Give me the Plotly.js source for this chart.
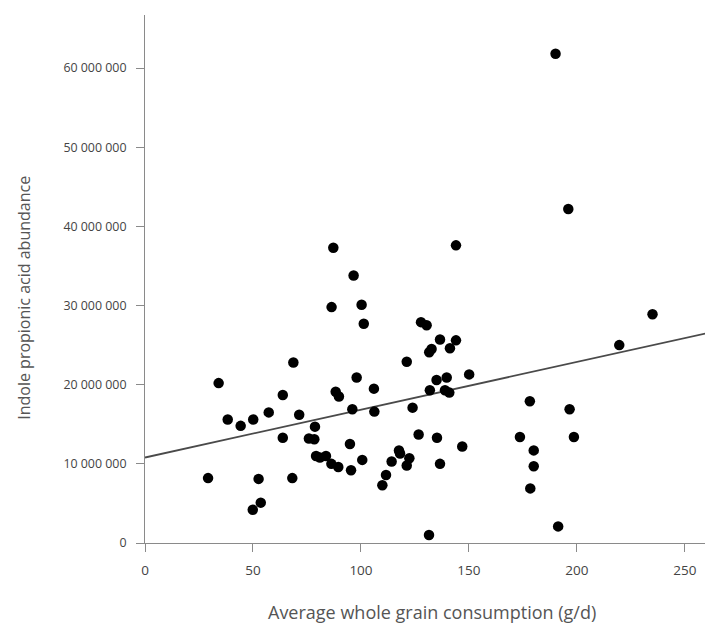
<!DOCTYPE html>
<html>
<head>
<meta charset="utf-8">
<script src="https://cdn.plot.ly/plotly-3.0.1.min.js"></script>
<style>html,body{margin:0;padding:0;background:#fff;}#chart{width:705px;height:628px;}</style>
</head>
<body>
<div id="chart"></div>
<script>
// Average whole grain consumption (g/d)
const grainX = [
  68.7, 34.1, 63.8, 88.3, 89.8, 57.3, 71.4, 38.3, 50.1, 44.3, 78.7, 63.8, 75.9, 78.4,
  79.2, 81.0, 83.8, 86.3, 89.5, 29.2, 52.6, 68.2, 53.6, 49.9,
  86.4, 100.3, 101.3, 127.8, 130.4, 136.6, 144.0, 132.7, 131.6, 141.2, 121.2, 98.0,
  150.1, 135.0, 139.7, 106.0, 131.9, 138.9, 140.9, 96.0, 106.2, 123.9, 126.7, 135.2,
  146.9, 94.9, 100.6, 95.4, 117.6, 118.1, 114.2, 122.4, 121.2, 136.6, 111.6, 109.9, 131.5,
  235.0, 219.6, 178.2, 196.6, 173.6, 198.6, 180.0, 180.0, 178.4, 191.3,
  87.2, 144.0, 96.6,
  190.1, 196.0
];
// Indole propionic acid abundance (millions)
const ipaMillions = [
  22.8, 20.2, 18.7, 19.1, 18.5, 16.5, 16.2, 15.6, 15.6, 14.8, 14.7, 13.3, 13.2, 13.1,
  11.0, 10.8, 11.0, 10.0, 9.6, 8.2, 8.1, 8.2, 5.1, 4.2,
  29.8, 30.1, 27.7, 27.9, 27.5, 25.7, 25.6, 24.5, 24.1, 24.6, 22.9, 20.9,
  21.3, 20.6, 20.9, 19.5, 19.3, 19.3, 19.0, 16.9, 16.6, 17.1, 13.7, 13.3,
  12.2, 12.5, 10.5, 9.2, 11.7, 11.3, 10.3, 10.7, 9.8, 10.0, 8.6, 7.3, 1.0,
  28.9, 25.0, 17.9, 16.9, 13.4, 13.4, 11.7, 9.7, 6.9, 2.1,
  37.3, 37.6, 33.8,
  61.8, 42.2
];
// Fitted linear regression line (endpoints)
const fitX = [0, 260];
const fitYMillions = [10.8, 26.5];

const yTickVals = [0, 10000000, 20000000, 30000000, 40000000, 50000000, 60000000];
const yTickText = ["0", "10 000 000", "20 000 000", "30 000 000", "40 000 000", "50 000 000", "60 000 000"];
const xTickVals = [0, 50, 100, 150, 200, 250];
const xTickText = ["0", "50", "100", "150", "200", "250"];

const xTitle = "Average whole grain consumption (g/d)";
const yTitle = "Indole propionic acid abundance";

const ipa = ipaMillions.map(v => v * 1e6);
const fitY = fitYMillions.map(v => v * 1e6);

const font = "'Open Sans', 'Liberation Sans', sans-serif";

const traces = [
  {
    x: fitX, y: fitY, type: "scatter", mode: "lines",
    line: {color: "#4a4a4a", width: 1.8},
    hoverinfo: "skip", showlegend: false, cliponaxis: true
  },
  {
    x: grainX, y: ipa, type: "scatter", mode: "markers",
    marker: {color: "#000000", size: 10.5, line: {width: 0}},
    showlegend: false
  }
];

const axisCommon = {
  showgrid: false, zeroline: false, showline: true,
  linecolor: "#8a8a8a", linewidth: 1,
  ticks: "outside", ticklen: 8, tickcolor: "#8a8a8a", tickwidth: 1
};

const layout = {
  width: 705, height: 628,
  margin: {l: 145, r: 0, t: 15, b: 84.5, pad: 0},
  paper_bgcolor: "#ffffff", plot_bgcolor: "#ffffff",
  showlegend: false,
  xaxis: Object.assign({}, axisCommon, {
    range: [0, 259.3], tickmode: "array", tickvals: xTickVals, ticktext: xTickText,
    ticklabelstandoff: 7,
    tickfont: {family: font, size: 13.5, color: "#444444"}
  }),
  yaxis: Object.assign({}, axisCommon, {
    range: [0, 66.7e6], tickmode: "array", tickvals: yTickVals, ticktext: yTickText,
    ticklabelstandoff: 7,
    tickfont: {family: font, size: 12.4, color: "#444444"}
  }),
  annotations: [
    {
      text: xTitle, xref: "paper", yref: "paper", x: 0.513, y: -0.1315,
      xanchor: "center", yanchor: "middle", showarrow: false,
      font: {family: font, size: 18, color: "#555555"}
    },
    {
      text: yTitle, xref: "paper", yref: "paper", x: -0.216, y: 0.4645,
      xanchor: "center", yanchor: "middle", showarrow: false, textangle: -90,
      font: {family: font, size: 16, color: "#555555"}
    }
  ]
};

Plotly.newPlot("chart", traces, layout, {staticPlot: true, displayModeBar: false});
</script>
</body>
</html>
